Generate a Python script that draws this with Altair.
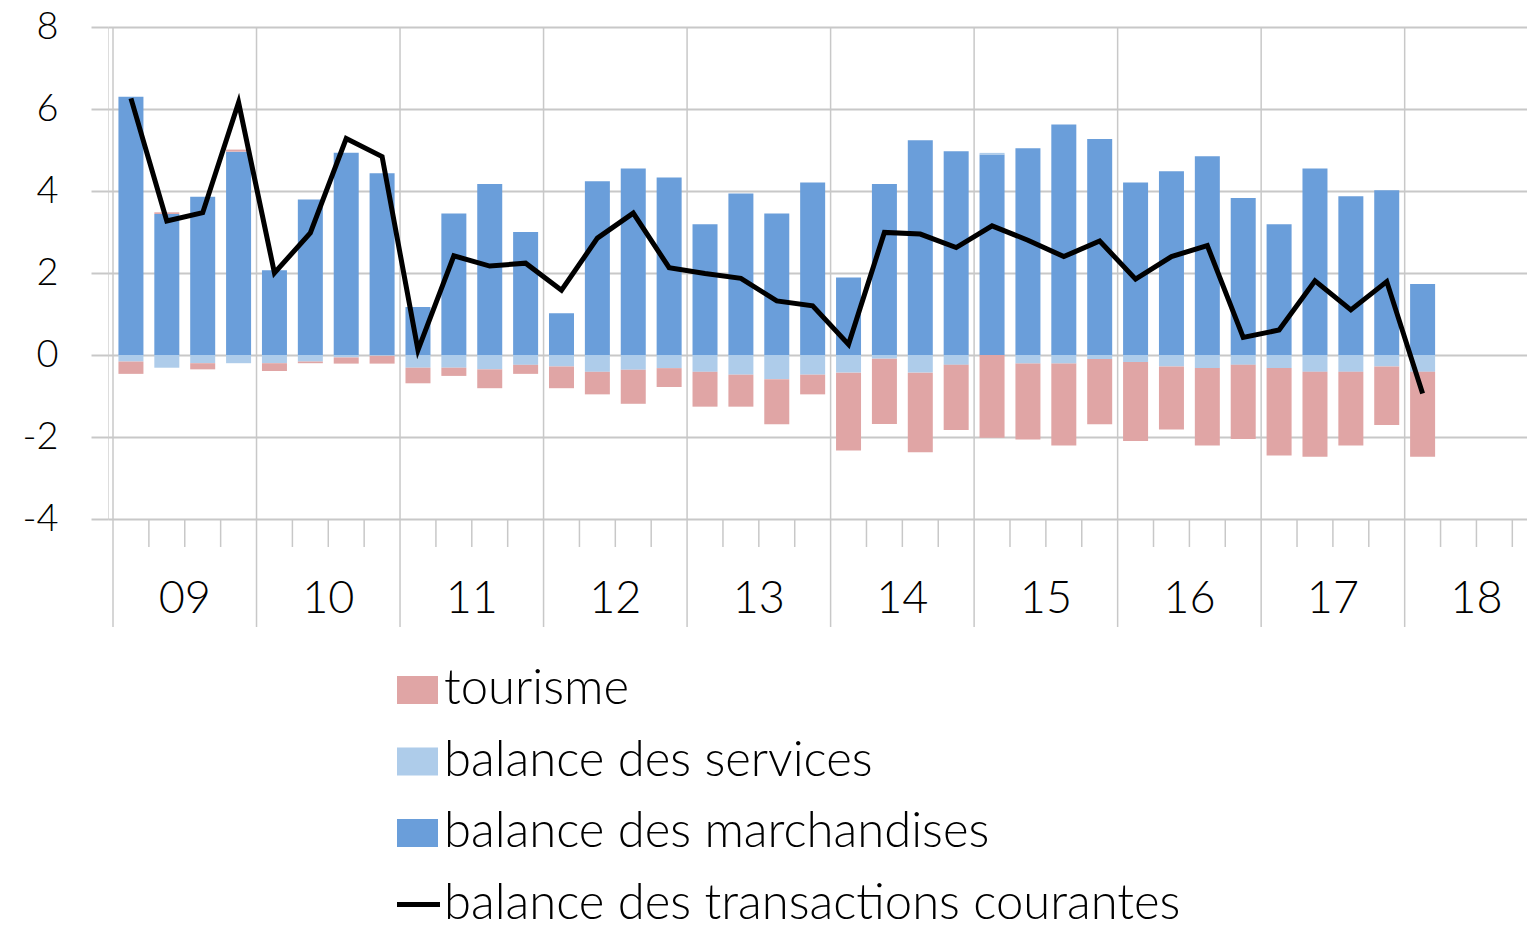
import altair as alt
import pandas as pd

# ---------------- data ----------------
quarters = [
    "2009T1", "2009T2", "2009T3", "2009T4",
    "2010T1", "2010T2", "2010T3", "2010T4",
    "2011T1", "2011T2", "2011T3", "2011T4",
    "2012T1", "2012T2", "2012T3", "2012T4",
    "2013T1", "2013T2", "2013T3", "2013T4",
    "2014T1", "2014T2", "2014T3", "2014T4",
    "2015T1", "2015T2", "2015T3", "2015T4",
    "2016T1", "2016T2", "2016T3", "2016T4",
    "2017T1", "2017T2", "2017T3", "2017T4",
    "2018T1",
]
year_labels = ["09", "10", "11", "12", "13", "14", "15", "16", "17", "18"]

marchandises = [
    6.30, 3.44, 3.86, 4.96,
    2.07, 3.79, 4.93, 4.43,
    1.17, 3.45, 4.17, 3.00,
    1.02, 4.24, 4.55, 4.33,
    3.19, 3.94, 3.45, 4.21,
    1.89, 4.17, 5.24, 4.97,
    4.89, 5.04, 5.62, 5.27,
    4.21, 4.48, 4.85, 3.83,
    3.19, 4.55, 3.87, 4.02,
    1.73,
]
services = [
    -0.16, -0.31, -0.20, -0.20,
    -0.20, -0.16, -0.06, -0.02,
    -0.31, -0.31, -0.35, -0.24,
    -0.28, -0.41, -0.36, -0.32,
    -0.41, -0.48, -0.59, -0.48,
    -0.43, -0.09, -0.43, -0.24,
    0.04, -0.21, -0.21, -0.10,
    -0.17, -0.28, -0.32, -0.24,
    -0.32, -0.41, -0.41, -0.28,
    -0.41,
]
tourisme = [
    -0.30, 0.04, -0.15, 0.05,
    -0.19, -0.04, -0.15, -0.19,
    -0.38, -0.20, -0.46, -0.22,
    -0.53, -0.55, -0.83, -0.46,
    -0.85, -0.78, -1.10, -0.48,
    -1.90, -1.59, -1.94, -1.59,
    -2.02, -1.85, -2.00, -1.59,
    -1.93, -1.54, -1.89, -1.81,
    -2.13, -2.07, -1.80, -1.43,
    -2.07,
]
transactions = [
    6.26, 3.27, 3.47, 6.16,
    2.00, 2.98, 5.28, 4.84,
    0.12, 2.42, 2.17, 2.24,
    1.58, 2.85, 3.46, 2.13,
    1.99, 1.87, 1.32, 1.20,
    0.26, 2.99, 2.95, 2.62,
    3.15, 2.80, 2.40, 2.78,
    1.85, 2.40, 2.67, 0.43,
    0.61, 1.81, 1.10, 1.79,
    -0.94,
]

series_names = ["tourisme", "balance des services", "balance des marchandises"]
line_name = "balance des transactions courantes"
colors = {"tourisme": "#E0A5A5",
          "balance des services": "#AECCEA",
          "balance des marchandises": "#6A9EDA"}
stack_order = {"balance des marchandises": 0, "balance des services": 1, "tourisme": 2}

# ---------------- tables ----------------
rows = []
for i, q in enumerate(quarters):
    for name, vals in (("balance des marchandises", marchandises),
                       ("balance des services", services),
                       ("tourisme", tourisme)):
        rows.append({"quarter": q, "pos": i + 0.5, "series": name,
                     "value": vals[i], "ord": stack_order[name]})
df_bars = pd.DataFrame(rows)
df_line = pd.DataFrame({"quarter": quarters,
                        "pos": [i + 0.5 for i in range(len(quarters))],
                        "value": transactions})
n_slots = 4 * len(year_labels)
df_years = pd.DataFrame({"pos": [4 * j for j in range(len(year_labels))]})
df_qticks = pd.DataFrame({"pos": [k for k in range(1, n_slots) if k % 4 != 0]})
df_ylab = pd.DataFrame({"pos": [4 * j + 2 for j in range(len(year_labels))],
                        "label": year_labels})

# ---------------- scales ----------------
PLOT_W, PLOT_H = 1419, 492
GRID = "#C8C8C8"
FONT = "Lato"
WEIGHT = 300
xscale = alt.Scale(domain=[0, 39.27], nice=False, zero=False)
yscale = alt.Scale(domain=[-4, 8], nice=False)
yaxis = alt.Axis(values=[-4, -2, 0, 2, 4, 6, 8], title=None, domain=False,
                 labelExpr="'' + datum.value",
                 grid=True, gridColor=GRID, gridWidth=2,
                 tickSize=17, tickColor=GRID, tickWidth=2,
                 labelFont=FONT, labelFontSize=38, labelFontWeight=WEIGHT,
                 labelColor="#000000",
                 labelPadding=33, labelFlush=False, labelOverlap=False)

bars = alt.Chart(df_bars).mark_bar(size=25).encode(
    x=alt.X("pos:Q", scale=xscale, axis=None),
    y=alt.Y("value:Q", stack="zero", scale=yscale, axis=yaxis),
    color=alt.Color("series:N",
                    scale=alt.Scale(domain=series_names,
                                    range=[colors[s] for s in series_names]),
                    legend=None),
    order=alt.Order("ord:Q"),
)

year_rules = alt.Chart(df_years).mark_rule(color=GRID, strokeWidth=1.5).encode(
    x=alt.X("pos:Q", scale=xscale, axis=None),
    y=alt.value(0), y2=alt.value(600),
)
q_ticks = alt.Chart(df_qticks).mark_rule(color=GRID, strokeWidth=1.5).encode(
    x=alt.X("pos:Q", scale=xscale, axis=None),
    y=alt.value(PLOT_H), y2=alt.value(PLOT_H + 28),
)
year_text = alt.Chart(df_ylab).mark_text(
    font=FONT, fontSize=45, fontWeight=WEIGHT, color="#000000",
    baseline="alphabetic", align="center"
).encode(
    x=alt.X("pos:Q", scale=xscale, axis=None),
    y=alt.value(586),
    text="label:N",
)

line = alt.Chart(df_line).mark_line(color="#000000", strokeWidth=5).encode(
    x=alt.X("pos:Q", scale=xscale, axis=None),
    y=alt.Y("value:Q", scale=yscale),
)

# ---------------- legend (manual, vertical) ----------------
legend_layers = []
leg_entries = series_names + [line_name]
base_y = 677
step = 71.5
for k, name in enumerate(leg_entries):
    bl = base_y + k * step
    d = pd.DataFrame({"label": [name]})
    if name in colors:
        legend_layers.append(
            alt.Chart(d).mark_rect(color=colors[name]).encode(
                x=alt.value(289), x2=alt.value(330),
                y=alt.value(bl - 28), y2=alt.value(bl)))
    else:
        legend_layers.append(
            alt.Chart(d).mark_rule(color="#000000", strokeWidth=5).encode(
                x=alt.value(289), x2=alt.value(332),
                y=alt.value(bl - 14)))
    legend_layers.append(
        alt.Chart(d).mark_text(font=FONT, fontSize=49, fontWeight=WEIGHT,
                               color="#000000",
                               baseline="alphabetic", align="left").encode(
            x=alt.value(336), y=alt.value(bl), text="label:N"))

chart = alt.layer(year_rules, q_ticks, bars, line, year_text, *legend_layers).properties(
    width=PLOT_W, height=PLOT_H,
    padding={"left": 100, "top": 19, "right": 0, "bottom": 400},
    autosize=alt.AutoSizeParams(type="none"),
).configure_view(stroke=None).configure(background="white")

chart.save("out.html", embed_options={"renderer": "svg", "actions": False})
